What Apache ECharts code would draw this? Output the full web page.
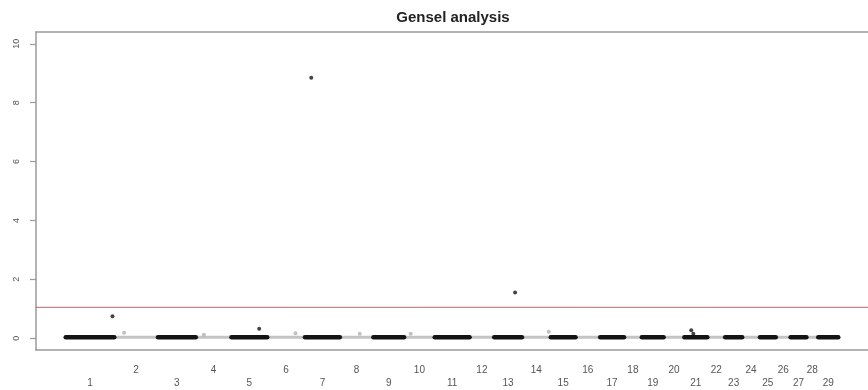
<!DOCTYPE html>
<html>
<head>
<meta charset="utf-8">
<script src="https://cdn.jsdelivr.net/npm/echarts@6/dist/echarts.min.js"></script>
<style>
  html, body { margin: 0; padding: 0; background: #fff; }
  #chart { width: 868px; height: 390px; }
</style>
</head>
<body>
<div id="chart"></div>
<script>
// Chromosome numbers and their lengths (Mb)
const chromosomes = [1, 2, 3, 4, 5, 6, 7, 8, 9, 10, 11, 12, 13, 14, 15, 16, 17, 18, 19, 20, 21, 22, 23, 24, 25, 26, 27, 28, 29];
const chromLengthMb = [163, 147, 127, 120, 120, 127, 117, 113, 103, 103, 117, 83, 93, 97, 83, 83, 80, 60, 73, 70, 77, 60, 57, 60, 53, 50, 53, 40, 67];

// Level of the dense cloud of non-significant markers on each chromosome (-log10 p)
const baselineLogP = [0.03, 0.03, 0.03, 0.03, 0.03, 0.03, 0.03, 0.03, 0.03, 0.03, 0.03, 0.03, 0.03, 0.03, 0.03, 0.03, 0.03, 0.03, 0.03, 0.03, 0.03, 0.03, 0.03, 0.03, 0.03, 0.03, 0.03, 0.03, 0.03];

// Markers standing out of the cloud: chromosome, position within it (Mb), -log10 p
const hitChrom = [1, 2, 4, 5, 6, 7, 8, 10, 13, 14, 21, 21];
const hitPosMb = [157, 33, 27, 93, 95, 21, 67, 22, 70, 90, 23, 30];
const hitLogP = [0.75, 0.19, 0.12, 0.32, 0.17, 8.85, 0.15, 0.15, 1.55, 0.22, 0.27, 0.15];

// Significance threshold (-log10 p)
const threshold = 1.05;

// Y axis ticks
const yTicks = [0, 2, 4, 6, 8, 10];

// ---- genome coordinates: chromosomes laid end to end after a margin ----
const pad = 100;
const chromStart = [];
let acc = pad;
chromLengthMb.forEach(function (len) { chromStart.push(acc); acc += len; });
const chromCenter = chromStart.map(function (s, i) { return s + chromLengthMb[i] / 2; });
const xMin = 0, xMax = acc + pad;

const BLACK = '#141414';
const GREY = '#c4c4c4';
const FRAME = '#9a9a9a';

const oddCenters = chromCenter.filter(function (c, i) { return chromosomes[i] % 2 === 1; });
const evenCenters = chromCenter.filter(function (c, i) { return chromosomes[i] % 2 === 0; });
function labelFor(v) {
  let best = 0, bd = Infinity;
  chromCenter.forEach(function (c, i) { const d = Math.abs(c - v); if (d < bd) { bd = d; best = i; } });
  return String(chromosomes[best]);
}

const series = [];

// threshold line across the whole plotting region
series.push({
  type: 'line',
  silent: true,
  symbol: 'none',
  data: [[xMin, threshold], [xMax, threshold]],
  lineStyle: { color: '#ff2a2a', width: 1, opacity: 0.85 },
  z: 1
});

// cloud bands: even chromosomes first (grey), odd on top (black)
[0, 1].forEach(function (parity) {
  chromosomes.forEach(function (ch, i) {
    if (ch % 2 !== parity) return;
    const odd = ch % 2 === 1;
    series.push({
      type: 'line',
      silent: true,
      symbol: 'none',
      data: [[chromStart[i], baselineLogP[i]], [chromStart[i] + chromLengthMb[i], baselineLogP[i]]],
      lineStyle: { color: odd ? BLACK : GREY, width: odd ? 4.5 : 3, cap: 'round' },
      z: odd ? 3 : 2
    });
  });
});

const hitData = hitChrom.map(function (ch, k) {
  const i = chromosomes.indexOf(ch);
  return {
    value: [chromStart[i] + hitPosMb[k], hitLogP[k]],
    itemStyle: { color: ch % 2 === 1 ? BLACK : '#b0b0b0' }
  };
});

series.push({
  type: 'scatter',
  data: hitData,
  symbolSize: 4,
  z: 4
});

const labelStyle = { color: '#555', fontSize: 10, fontFamily: 'Liberation Sans, Arial, sans-serif' };

const option = {
  animation: false,
  backgroundColor: '#fff',
  title: {
    text: 'Gensel analysis',
    left: 453,
    top: 10,
    padding: 0,
    textAlign: 'center',
    textStyle: { fontSize: 15, fontWeight: 'bold', color: '#222', fontFamily: 'Liberation Sans, Arial, sans-serif' }
  },
  grid: {
    left: 36, right: -7, top: 32, bottom: 40,
    show: false
  },
  xAxis: [
    {
      type: 'value', min: xMin, max: xMax, position: 'bottom',
      axisLine: { show: true, onZero: false, lineStyle: { color: FRAME, width: 1.5 } }, axisTick: { show: false },
      axisLabel: { show: false }, splitLine: { show: false }
    },
    {
      type: 'value', min: xMin, max: xMax, position: 'bottom',
      axisLine: { show: false, onZero: false }, axisTick: { show: false }, splitLine: { show: false },
      axisLabel: Object.assign({ customValues: evenCenters, margin: 15, formatter: labelFor }, labelStyle)
    },
    {
      type: 'value', min: xMin, max: xMax, position: 'bottom',
      axisLine: { show: false, onZero: false }, axisTick: { show: false }, splitLine: { show: false },
      axisLabel: Object.assign({ customValues: oddCenters, margin: 28, formatter: labelFor }, labelStyle)
    },
    {
      // top edge of the frame
      type: 'value', min: xMin, max: xMax, position: 'top',
      axisLine: { show: true, onZero: false, lineStyle: { color: FRAME, width: 1.5 } }, axisTick: { show: false },
      axisLabel: { show: false }, splitLine: { show: false }
    }
  ],
  yAxis: {
    type: 'value', min: -0.4, max: 10.4, position: 'left',
    axisLine: { show: true, lineStyle: { color: FRAME, width: 1.5 } },
    splitLine: { show: false },
    axisTick: { show: true, length: 6, customValues: yTicks, lineStyle: { color: FRAME, width: 1.2 } },
    axisLabel: Object.assign({ customValues: yTicks, rotate: 90, margin: 15 }, labelStyle, { fontSize: 9 })
  },
  series: series
};

const chart = echarts.init(document.getElementById('chart'), null, { renderer: 'canvas' });
chart.setOption(option);
</script>
</body>
</html>
